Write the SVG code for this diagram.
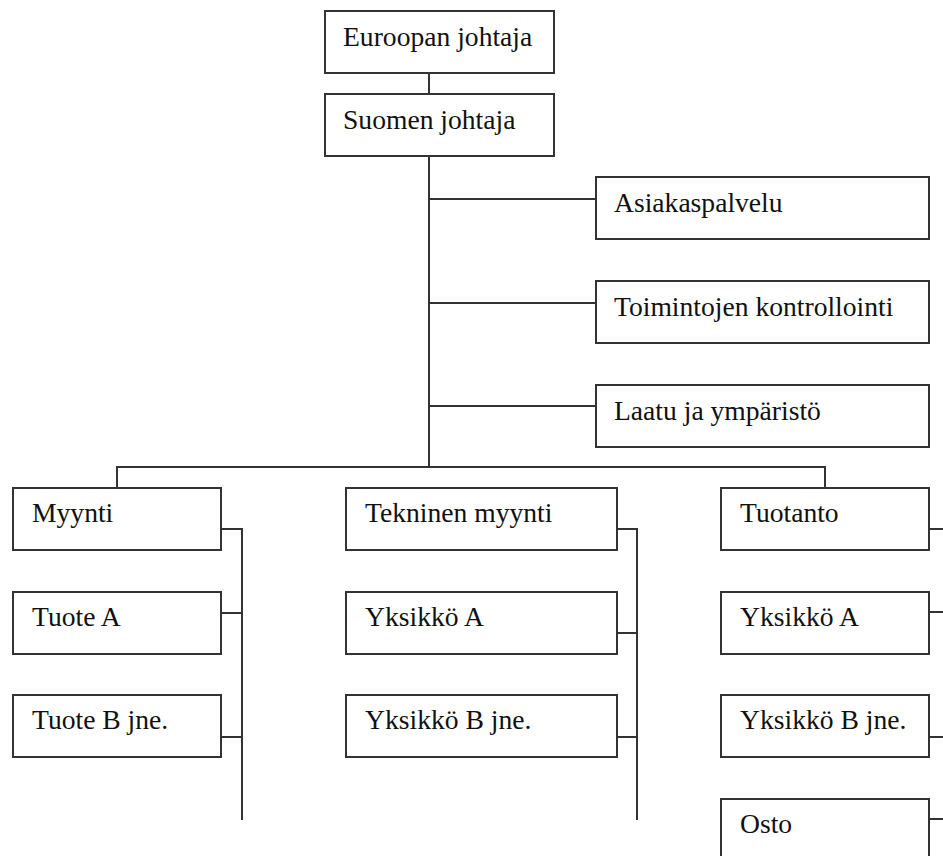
<svg xmlns="http://www.w3.org/2000/svg" width="943" height="856" viewBox="0 0 943 856">
<style>
.box{fill:#fff;stroke:#333;stroke-width:2}
.lbl{font-family:"Liberation Serif","Times New Roman",serif;font-size:27.6px;fill:#111}
.con{fill:none;stroke:#333;stroke-width:2}
</style>
<rect width="943" height="856" fill="#fff"/>
<g id="connectors" class="con">
<path d="M429,73V94"/>
<path d="M429,156V467"/>
<path d="M429,199H596M429,303H596M429,406H596"/>
<path d="M117,488V467H825V488"/>
<path d="M221,529H242V820M221,613H242M221,737H242"/>
<path d="M617,529H637V820M617,633H637M617,737H637"/>
<path d="M929,529H943M929,612H943M929,737H943M929,819H943"/>
</g>
<g id="n1"><rect class="box" x="325" y="11" width="229" height="62"/><text class="lbl" x="343" y="46">Euroopan johtaja</text></g>
<g id="n2"><rect class="box" x="325" y="94" width="229" height="62"/><text class="lbl" x="343" y="129">Suomen johtaja</text></g>
<g id="n3"><rect class="box" x="596" y="177" width="333" height="62"/><text class="lbl" x="614" y="212">Asiakaspalvelu</text></g>
<g id="n4"><rect class="box" x="596" y="281" width="333" height="62"/><text class="lbl" x="614" y="316">Toimintojen kontrollointi</text></g>
<g id="n5"><rect class="box" x="596" y="385" width="333" height="62"/><text class="lbl" x="614" y="420">Laatu ja ympäristö</text></g>
<g id="n6"><rect class="box" x="13" y="488" width="208" height="62"/><text class="lbl" x="32" y="522">Myynti</text></g>
<g id="n7"><rect class="box" x="13" y="592" width="208" height="62"/><text class="lbl" x="32" y="626">Tuote A</text></g>
<g id="n8"><rect class="box" x="13" y="695" width="208" height="62"/><text class="lbl" x="32" y="729">Tuote B jne.</text></g>
<g id="n9"><rect class="box" x="346" y="488" width="271" height="62"/><text class="lbl" x="365" y="522">Tekninen myynti</text></g>
<g id="n10"><rect class="box" x="346" y="592" width="271" height="62"/><text class="lbl" x="365" y="626">Yksikkö A</text></g>
<g id="n11"><rect class="box" x="346" y="695" width="271" height="62"/><text class="lbl" x="365" y="729">Yksikkö B jne.</text></g>
<g id="n12"><rect class="box" x="721" y="488" width="208" height="62"/><text class="lbl" x="740" y="522">Tuotanto</text></g>
<g id="n13"><rect class="box" x="721" y="592" width="208" height="62"/><text class="lbl" x="740" y="626">Yksikkö A</text></g>
<g id="n14"><rect class="box" x="721" y="695" width="208" height="62"/><text class="lbl" x="740" y="729">Yksikkö B jne.</text></g>
<g id="n15"><rect class="box" x="721" y="799" width="208" height="62"/><text class="lbl" x="740" y="833">Osto</text></g>
</svg>
